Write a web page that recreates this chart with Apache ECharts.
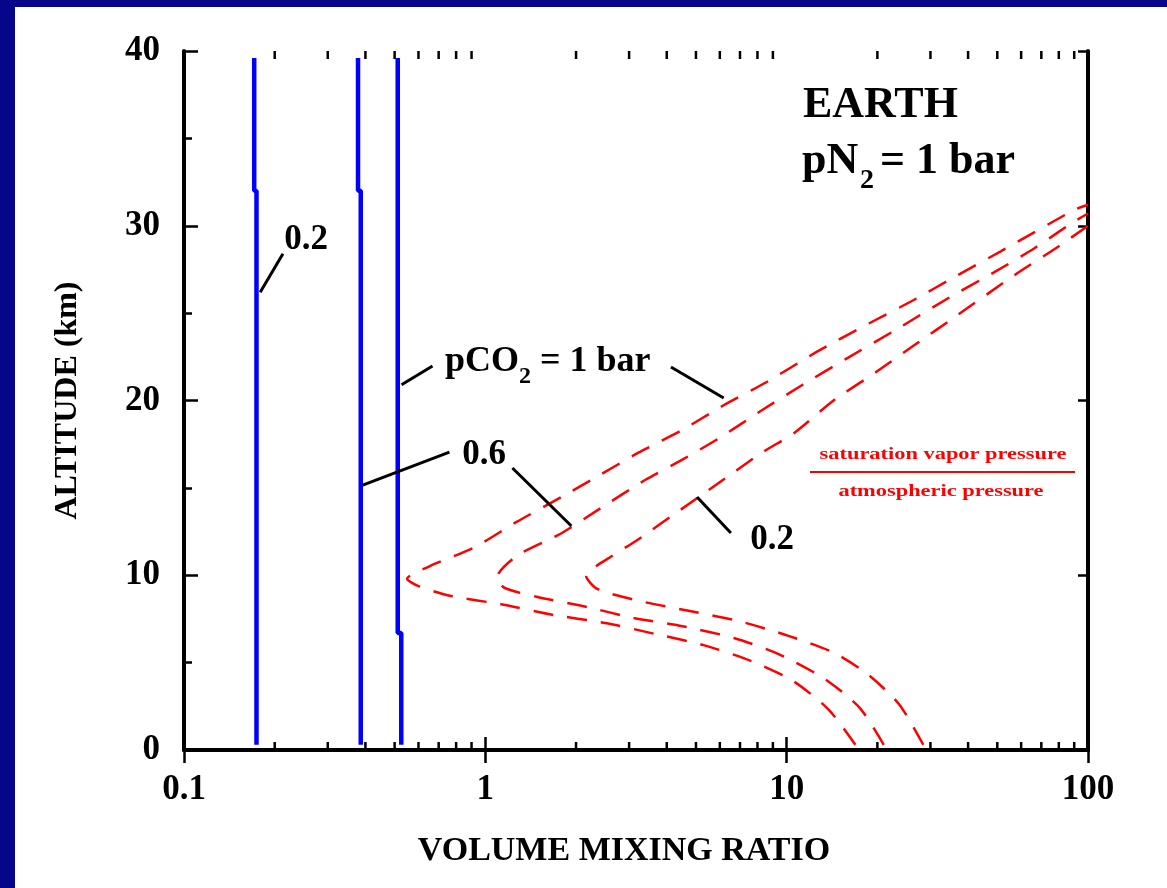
<!DOCTYPE html>
<html><head><meta charset="utf-8">
<script src="https://cdn.jsdelivr.net/npm/echarts@6/dist/echarts.min.js"></script>
<style>html,body{margin:0;padding:0;background:#06068a;}#c{width:1167px;height:888px;}</style>
</head><body><div id="c"></div>
<script>
// ---- data ----
const xMin = 0.1, xMax = 100;
const yMin = 0, yMax = 40, yStep = 10;
const minorXTicks = [0.2,0.3,0.4,0.5,0.6,0.7,0.8,0.9,2,3,4,5,6,7,8,9,20,30,40,50,60,70,80,90];

// CO2 volume mixing ratio profiles (blue) : [ratio, altitude km]
const co2_02 = [[0.171,39.6],[0.171,32.0],[0.174,32.0],[0.174,0.3]];
const co2_06 = [[0.378,39.6],[0.378,32.0],[0.386,32.0],[0.386,0.3]];
const co2_10 = [[0.512,39.6],[0.512,6.7],[0.526,6.7],[0.526,0.3]];

// saturation vapor pressure / atmospheric pressure (red dashed)
const sat_10 = [[16.9,0.3],[13.8,2.3],[10.5,3.95],[7.6,5.1],[5.3,6.0],[3.66,6.64],[2.5,7.27],[1.68,7.73],[1.12,8.35],[0.77,8.81],[0.60,9.38],[0.55,9.8],[0.65,10.5],[0.92,11.6],[1.27,13.05],[1.80,14.5],[2.38,15.7],[3.21,17.0],[4.49,18.3],[6.14,19.7],[8.59,21.06],[12.57,22.78],[18.7,24.4],[26.4,25.75],[36.3,27.1],[51.5,28.55],[89.9,30.9],[100,31.2]];
const sat_06 = [[21,0.3],[17.5,2.4],[13.4,4.06],[9.4,5.49],[6.68,6.41],[4.46,7.1],[3.11,7.55],[2.18,8.18],[1.49,8.76],[1.16,9.27],[1.09,9.84],[1.27,11.1],[1.77,12.36],[2.42,13.85],[3.39,15.45],[4.49,16.6],[6.04,17.9],[8.2,19.4],[11.3,20.9],[15.8,22.4],[22.8,24.0],[34.7,25.9],[48.4,27.3],[66.2,28.7],[89.2,30.2],[100,30.7]];
const sat_02 = [[28.4,0.3],[23.7,2.58],[18.7,4.29],[14.4,5.55],[10.2,6.52],[6.93,7.38],[4.77,7.95],[3.24,8.53],[2.36,9.2],[2.16,9.95],[2.63,11.1],[3.16,11.96],[4.29,13.56],[5.82,15.16],[8.15,16.94],[10.7,18.2],[14.3,20.0],[19.7,21.6],[26.7,23.2],[36.3,24.8],[57.3,27.2],[79.6,28.8],[100,30.0]];

// leader lines for annotations : [[x1,y1],[x2,y2]]
const leaders = [
  [[0.179,26.2],[0.213,28.4]],
  [[0.527,20.9],[0.668,21.97]],
  [[0.392,15.16],[0.760,17.05]],
  [[1.23,16.14],[1.93,12.82]],
  [[4.13,21.92],[6.18,20.14]],
  [[5.04,14.48],[6.53,12.42]]
];

// ---- chart ----
const SERIF = '"Liberation Serif", "Times New Roman", serif';
const chart = echarts.init(document.getElementById('c'), null, {renderer:'canvas'});
const axisFont = {fontFamily: SERIF, fontWeight:'bold', fontSize:35, color:'#000'};
const lineW = 4;

function txt(text, x, y, size, opts) {
  opts = opts || {};
  return {
    type:'text', x:x, y:y, z:50, silent:true,
    scaleX: opts.scaleX || 1,
    style:{text:text, x:0, y:0, fill: opts.color || '#000',
      font: 'bold ' + size + 'px ' + SERIF,
      textAlign: opts.align || 'left', align: opts.align || 'left',
      textVerticalAlign:'middle', verticalAlign:'middle'}
  };
}

const series = [];
[co2_02, co2_06, co2_10].forEach(d => series.push({
  type:'line', data:d, symbol:'none', silent:true, z:3,
  lineStyle:{color:'#0000ff', width:4.5}
}));
[sat_10, sat_06, sat_02].forEach(d => series.push({
  type:'line', data:d, symbol:'none', silent:true, smooth:0.25, z:3,
  lineStyle:{color:'#ff0000', width:2.5, type:[20,14]}
}));
leaders.forEach(d => series.push({
  type:'line', data:d, symbol:'none', silent:true, z:4,
  lineStyle:{color:'#000', width:3}
}));
series.push({
  type:'custom', silent:true, z:5,
  data: minorXTicks.map(v => [v, yMin]),
  renderItem: function(params, api) {
    const v = api.value(0);
    const b = api.coord([v, yMin]);
    const t = api.coord([v, yMax]);
    return {type:'group', children:[
      {type:'line', shape:{x1:b[0], y1:b[1], x2:b[0], y2:b[1]-8}, style:{stroke:'#000', lineWidth:2.5}},
      {type:'line', shape:{x1:t[0], y1:t[1], x2:t[0], y2:t[1]+8}, style:{stroke:'#000', lineWidth:2.5}}
    ]};
  }
});

chart.setOption({
  backgroundColor:'#06068a',
  animation:false,
  grid:{left:184, right:79, top:51, bottom:138, containLabel:false},
  xAxis:[{
    type:'log', logBase:10, min:xMin, max:xMax, position:'bottom',
    name:'VOLUME MIXING RATIO', nameLocation:'middle', nameGap:84,
    nameTextStyle:{fontFamily:SERIF, fontWeight:'bold', fontSize:34, color:'#000', verticalAlign:'top', padding:[0,24,0,0]},
    axisLine:{lineStyle:{color:'#000', width:lineW}},
    axisTick:{inside:true, length:13, lineStyle:{color:'#000', width:2.5}},
    axisLabel:Object.assign({margin:22}, axisFont),
    splitLine:{show:false}
  },{
    type:'log', logBase:10, min:xMin, max:xMax, position:'top',
    axisLine:{lineStyle:{color:'#000', width:lineW}},
    axisTick:{inside:true, length:13, lineStyle:{color:'#000', width:2.5}},
    axisLabel:{show:false}, splitLine:{show:false}
  }],
  yAxis:[{
    type:'value', min:yMin, max:yMax, interval:yStep, position:'left',
    name:'ALTITUDE (km)', nameLocation:'middle', nameGap:100, nameRotate:90,
    nameTextStyle:{fontFamily:SERIF, fontWeight:'bold', fontSize:32, color:'#000'},
    axisLine:{lineStyle:{color:'#000', width:lineW}},
    axisTick:{inside:true, length:14, lineStyle:{color:'#000', width:2.5}},
    minorTick:{show:true, splitNumber:2, length:8, lineStyle:{color:'#000', width:2.5}},
    axisLabel:Object.assign({margin:24}, axisFont),
    splitLine:{show:false}
  },{
    type:'value', min:yMin, max:yMax, interval:yStep, position:'right',
    axisLine:{lineStyle:{color:'#000', width:lineW}},
    axisTick:{inside:true, length:10, lineStyle:{color:'#000', width:2.5}},
    axisLabel:{show:false}, splitLine:{show:false}
  }],
  graphic:[
    {type:'rect', z:-100, silent:true, shape:{x:15, y:7, width:1152, height:881}, style:{fill:'#ffffff'}},
    txt('EARTH', 803, 106, 44),
    txt('pN', 802, 162, 44),
    txt('2', 860, 181, 28),
    txt('= 1 bar', 880, 162, 44),
    txt('0.2', 306, 240, 35, {align:'center'}),
    txt('pCO', 445, 362, 36),
    txt('2', 519, 377, 24),
    txt('= 1 bar', 540, 362, 36),
    txt('0.6', 484, 455, 35, {align:'center'}),
    txt('0.2', 772, 540, 35, {align:'center'}),
    txt('saturation vapor pressure', 943, 455, 16, {align:'center', color:'#ff0000', scaleX:1.4}),
    {type:'line', z:50, silent:true, shape:{x1:810, y1:472, x2:1075, y2:472}, style:{stroke:'#ff0000', lineWidth:2}},
    txt('atmospheric pressure', 941, 492, 16, {align:'center', color:'#ff0000', scaleX:1.4})
  ],
  series: series
});
</script></body></html>
